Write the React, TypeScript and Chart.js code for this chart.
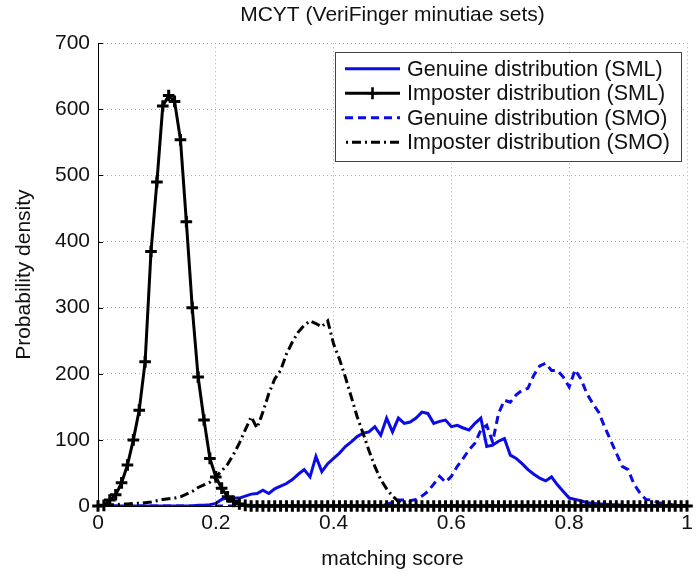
import React, { useEffect, useRef } from 'react';
import { Chart, registerables } from 'chart.js';

Chart.register(...registerables);

// matching score bins (x values)
const scores = [
  0, 0.01, 0.02, 0.03, 0.04, 0.05, 0.06, 0.07, 0.08, 0.09,
  0.1, 0.11, 0.12, 0.13, 0.14, 0.15, 0.16, 0.17, 0.18, 0.19,
  0.2, 0.21, 0.22, 0.23, 0.24, 0.25, 0.26, 0.27, 0.28, 0.29,
  0.3, 0.31, 0.32, 0.33, 0.34, 0.35, 0.36, 0.37, 0.38, 0.39,
  0.4, 0.41, 0.42, 0.43, 0.44, 0.45, 0.46, 0.47, 0.48, 0.49,
  0.5, 0.51, 0.52, 0.53, 0.54, 0.55, 0.56, 0.57, 0.58, 0.59,
  0.6, 0.61, 0.62, 0.63, 0.64, 0.65, 0.66, 0.67, 0.68, 0.69,
  0.7, 0.71, 0.72, 0.73, 0.74, 0.75, 0.76, 0.77, 0.78, 0.79,
  0.8, 0.81, 0.82, 0.83, 0.84, 0.85, 0.86, 0.87, 0.88, 0.89,
  0.9, 0.91, 0.92, 0.93, 0.94, 0.95, 0.96, 0.97, 0.98, 0.99,
  1,
];

const genuineSML = [
  0, 0, 0, 0, 0, 0, 0, 0, 0, 0,
  0, 0, 0, 0, 0, 0, 0, 1, 1, 2,
  4, 10, 12, 12, 12, 15, 18, 19, 24, 19,
  26, 30, 34, 40, 48, 55, 44, 75, 52, 64,
  72, 80, 90, 97, 105, 110, 112, 120, 107, 133,
  112, 133, 125, 127, 133, 142, 140, 125, 128, 130,
  120, 122, 118, 115, 125, 133, 90, 92, 98, 102,
  77, 72, 64, 55, 48, 42, 38, 44, 32, 22,
  12, 10, 8, 5, 4, 3, 3, 2, 2, 1,
  0, 0, 0, 0, 0, 0, 0, 0, 0, 0,
  0,
];

const imposterSML = [
  0, 1, 9, 17, 35, 62, 100, 145, 218, 385,
  490, 605, 621, 612, 554, 430, 300, 195, 130, 72,
  44, 27, 14, 7, 3, 1, 0, 0, 0, 0,
  0, 0, 0, 0, 0, 0, 0, 0, 0, 0,
  0, 0, 0, 0, 0, 0, 0, 0, 0, 0,
  0, 0, 0, 0, 0, 0, 0, 0, 0, 0,
  0, 0, 0, 0, 0, 0, 0, 0, 0, 0,
  0, 0, 0, 0, 0, 0, 0, 0, 0, 0,
  0, 0, 0, 0, 0, 0, 0, 0, 0, 0,
  0, 0, 0, 0, 0, 0, 0, 0, 0, 0,
  0,
];

const genuineSMO = [
  0, 0, 0, 0, 0, 0, 0, 0, 0, 0,
  0, 0, 0, 0, 0, 0, 0, 0, 0, 0,
  0, 0, 0, 0, 0, 0, 0, 0, 0, 0,
  0, 0, 0, 0, 0, 0, 0, 0, 0, 0,
  0, 0, 0, 0, 0, 0, 0, 0, 1, 2,
  6, 9, 9, 8, 10, 15, 22, 33, 45, 36,
  45, 60, 72, 85, 95, 115, 122, 97, 140, 160,
  157, 168, 175, 178, 198, 212, 216, 205, 205, 195,
  180, 206, 192, 170, 155, 142, 120, 100, 80, 60,
  55, 33, 20, 10, 9, 5, 4, 3, 1, 0,
  0,
];

const imposterSMO = [
  0, 1, 2, 2, 3, 3, 4, 4, 5, 6,
  8, 10, 11, 12, 14, 18, 22, 28, 32, 36,
  44, 53, 63, 78, 95, 115, 135, 118, 142, 170,
  192, 205, 230, 248, 263, 273, 280, 276, 271, 280,
  245, 222, 195, 165, 135, 110, 84, 60, 40, 26,
  15, 7, 3, 1, 0, 0, 0, 0, 0, 0,
  0, 0, 0, 0, 0, 0, 0, 0, 0, 0,
  0, 0, 0, 0, 0, 0, 0, 0, 0, 0,
  0, 0, 0, 0, 0, 0, 0, 0, 0, 0,
  0, 0, 0, 0, 0, 0, 0, 0, 0, 0,
  0,
];

const seriesLabels = [
  'Genuine distribution (SML)',
  'Imposter distribution (SML)',
  'Genuine distribution (SMO)',
  'Imposter distribution (SMO)',
];

const xTickLabels = ['0', '0.2', '0.4', '0.6', '0.8', '1'];
const titleText = 'MCYT (VeriFinger minutiae sets)';
const xTitle = 'matching score';
const yTitle = 'Probability density';

const FONT = '"Liberation Sans", Arial, Helvetica, sans-serif';
const BLUE = '#0b0be6';
const BLACK = '#000000';

const toPoints = (ys: number[]) => ys.map((y, i) => ({ x: scores[i], y }));

// inward tick marks like MATLAB
const inwardTicks = {
  id: 'inwardTicks',
  afterDatasetsDraw(chart: any) {
    const { ctx, chartArea, scales } = chart;
    ctx.save();
    ctx.strokeStyle = '#000';
    ctx.lineWidth = 1;
    ctx.setLineDash([]);
    scales.y.ticks.forEach((t: any) => {
      const py = Math.round(scales.y.getPixelForValue(t.value)) + 0.5;
      ctx.beginPath();
      ctx.moveTo(chartArea.left, py);
      ctx.lineTo(chartArea.left + 5, py);
      ctx.stroke();
    });
    scales.x.ticks.forEach((t: any) => {
      const px = Math.round(scales.x.getPixelForValue(t.value)) + 0.5;
      ctx.beginPath();
      ctx.moveTo(px, chartArea.bottom);
      ctx.lineTo(px, chartArea.bottom - 5);
      ctx.stroke();
    });
    ctx.restore();
  },
};

// boxed legend inside the plot, top-right
const boxLegend = {
  id: 'boxLegend',
  afterDraw(chart: any) {
    const { ctx, chartArea } = chart;
    const w = 346;
    const h = 109;
    const x0 = chartArea.right - 6 - w;
    const y0 = chartArea.top + 9;
    ctx.save();
    ctx.fillStyle = '#ffffff';
    ctx.fillRect(x0, y0, w, h);
    ctx.strokeStyle = '#444';
    ctx.lineWidth = 1;
    ctx.setLineDash([]);
    ctx.strokeRect(Math.round(x0) + 0.5, Math.round(y0) + 0.5, w, h);
    ctx.font = `21.5px ${FONT}`;
    ctx.textBaseline = 'middle';
    ctx.textAlign = 'left';
    chart.data.datasets.forEach((ds: any, i: number) => {
      const cy = y0 + 16.5 + i * 24.5;
      const lx0 = x0 + 10;
      const lx1 = x0 + 65;
      ctx.strokeStyle = ds.borderColor;
      ctx.lineWidth = ds.borderWidth;
      ctx.setLineDash(ds.borderDash || []);
      ctx.lineDashOffset = ds.borderDashOffset || 0;
      ctx.beginPath();
      ctx.moveTo(lx0, cy);
      ctx.lineTo(lx1, cy);
      ctx.stroke();
      ctx.setLineDash([]);
      if (ds.pointStyle === 'cross') {
        const cx = (lx0 + lx1) / 2;
        ctx.lineWidth = 2.6;
        ctx.beginPath();
        ctx.moveTo(cx - 5, cy);
        ctx.lineTo(cx + 5, cy);
        ctx.moveTo(cx, cy - 6);
        ctx.lineTo(cx, cy + 6);
        ctx.stroke();
      }
      ctx.fillStyle = '#111';
      ctx.fillText(ds.label, x0 + 72, cy + 1);
    });
    ctx.restore();
  },
};

export default function App() {
  const canvasRef = useRef<HTMLCanvasElement | null>(null);

  useEffect(() => {
    if (!canvasRef.current) return;
    Chart.defaults.font.family = FONT;
    const chart = new Chart(canvasRef.current, {
      type: 'line',
      data: {
        datasets: [
          {
            label: seriesLabels[0],
            data: toPoints(genuineSML),
            borderColor: BLUE,
            backgroundColor: BLUE,
            borderWidth: 3,
            pointRadius: 0,
            tension: 0,
            order: 2,
          },
          {
            label: seriesLabels[1],
            data: toPoints(imposterSML),
            borderColor: BLACK,
            backgroundColor: BLACK,
            borderWidth: 3,
            pointStyle: 'cross',
            pointRadius: 5.8,
            pointBorderWidth: 3,
            pointBorderColor: BLACK,
            tension: 0,
            clip: false,
            order: 0,
          },
          {
            label: seriesLabels[2],
            data: toPoints(genuineSMO),
            borderColor: BLUE,
            backgroundColor: BLUE,
            borderWidth: 3,
            borderDash: [8, 5],
            pointRadius: 0,
            tension: 0,
            order: 3,
          },
          {
            label: seriesLabels[3],
            data: toPoints(imposterSMO),
            borderColor: BLACK,
            backgroundColor: BLACK,
            borderWidth: 3,
            borderDash: [9, 4, 2, 4],
            borderDashOffset: 12,
            pointRadius: 0,
            tension: 0,
            order: 1,
          },
        ],
      },
      options: {
        responsive: false,
        animation: false,
        devicePixelRatio: 1,
        layout: { padding: { left: 0, right: 13, top: 0, bottom: 0 } },
        plugins: {
          legend: { display: false },
          tooltip: { enabled: false },
          title: {
            display: true,
            fullSize: false,
            text: titleText,
            color: '#111',
            font: { size: 21, weight: 'normal', family: FONT },
            padding: { top: 3, bottom: 15 },
          },
        },
        scales: {
          x: {
            type: 'linear',
            min: 0,
            max: 1,
            afterFit: (s: any) => {
              s.height = 66;
            },
            afterBuildTicks: (s: any) => {
              s.ticks = xTickLabels.map((l) => ({ value: parseFloat(l) }));
            },
            ticks: {
              color: '#111',
              font: { size: 21 },
              padding: 5,
              maxRotation: 0,
              autoSkip: false,
              callback: (_v: any, i: number) => xTickLabels[i],
            },
            grid: { color: '#b0b0b0', lineWidth: 1, drawTicks: false },
            border: { display: true, color: '#000', width: 1, dash: [1, 3] },
            title: {
              display: true,
              text: xTitle,
              color: '#111',
              font: { size: 21 },
              padding: { top: 0, bottom: 0 },
            },
          },
          y: {
            type: 'linear',
            min: 0,
            max: 700,
            afterFit: (s: any) => {
              s.width = 98;
            },
            ticks: {
              stepSize: 100,
              color: '#111',
              font: { size: 21 },
              padding: 8,
            },
            grid: { color: '#b0b0b0', lineWidth: 1, drawTicks: false },
            border: { display: true, color: '#000', width: 1, dash: [1, 3] },
            title: {
              display: true,
              text: yTitle,
              color: '#111',
              font: { size: 21 },
              padding: { top: 12, bottom: 0 },
            },
          },
        },
      },
      plugins: [inwardTicks, boxLegend],
    } as any);
    return () => chart.destroy();
  }, []);

  return (
    <div style={{ position: 'absolute', left: 0, top: 0, width: 700, height: 572, background: '#fff' }}>
      <canvas ref={canvasRef} width={700} height={572} />
    </div>
  );
}
